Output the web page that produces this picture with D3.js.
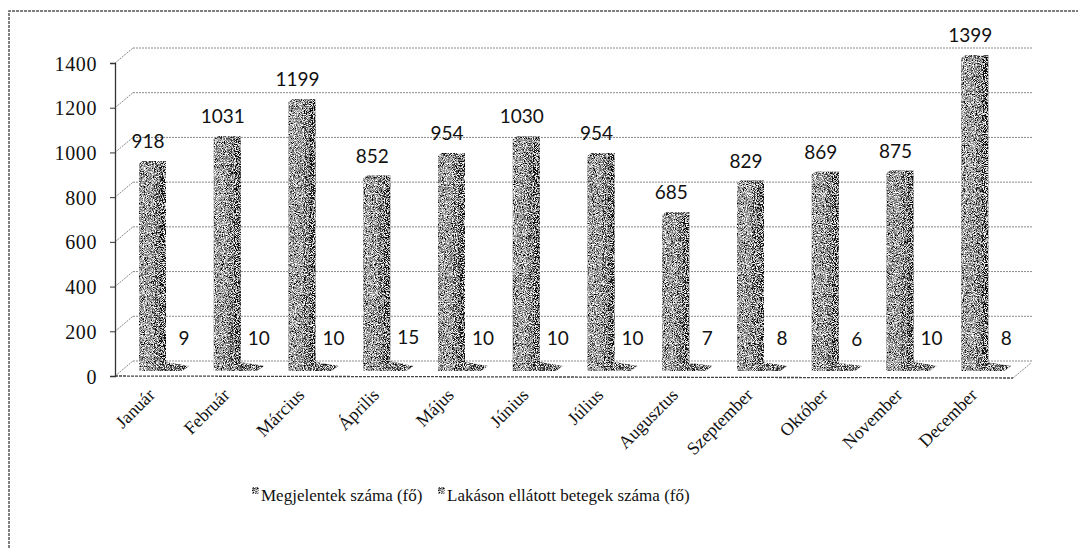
<!DOCTYPE html>
<html>
<head>
<meta charset="utf-8">
<title>Megjelentek / Lakáson ellátott betegek</title>
<style>
body { margin: 0; background: #fff; }
.grid { stroke: #8a8a8a; stroke-width: 1; stroke-dasharray: 2 1; fill: none; }
</style>
<script src="https://cdnjs.cloudflare.com/ajax/libs/d3/7.8.5/d3.min.js"></script>
</head>
<body>
<svg id="chart" width="1078" height="549"></svg>
<script>
var months = ['Január', 'Február', 'Március', 'Április', 'Május', 'Június',
    'Július', 'Augusztus', 'Szeptember', 'Október', 'November', 'December'];
var seriesNames = ['Megjelentek száma (fő)', 'Lakáson ellátott betegek száma (fő)'];
var megjelentek = [918, 1031, 1199, 852, 954, 1030, 954, 685, 829, 869, 875, 1399];
var lakason = [9, 10, 10, 15, 10, 10, 10, 7, 8, 6, 10, 8];
var yTicks = [0, 200, 400, 600, 800, 1000, 1200, 1400];

var SERIF = '"Liberation Serif", "DejaVu Serif", serif';
var SANS = 'Lato, "Open Sans", sans-serif';

var svg = d3.select('#chart');

// grainy "scanned" look for the bars
var defs = svg.append('defs');
var f = defs.append('filter').attr('id', 'grain')
    .attr('x', 0).attr('y', 0).attr('width', 1).attr('height', 1);
f.append('feTurbulence').attr('type', 'fractalNoise')
    .attr('baseFrequency', 1.1).attr('numOctaves', 1).attr('seed', 3).attr('result', 'noise');
f.append('feColorMatrix').attr('in', 'noise').attr('type', 'matrix')
    .attr('values', '0 0 0 0 0  0 0 0 0 0  0 0 0 0 0  5 0 0 0 -2.1').attr('result', 'dots');
f.append('feComposite').attr('in', 'dots').attr('in2', 'SourceGraphic')
    .attr('operator', 'in').attr('result', 'dots2');
f.append('feTurbulence').attr('type', 'fractalNoise')
    .attr('baseFrequency', 1.1).attr('numOctaves', 1).attr('seed', 11).attr('result', 'noise2');
f.append('feColorMatrix').attr('in', 'noise2').attr('type', 'matrix')
    .attr('values', '0 0 0 0 1  0 0 0 0 1  0 0 0 0 1  5 0 0 0 -2.3').attr('result', 'lights');
f.append('feComposite').attr('in', 'lights').attr('in2', 'SourceGraphic')
    .attr('operator', 'in').attr('result', 'lights2');
var fm = f.append('feMerge');
fm.append('feMergeNode').attr('in', 'SourceGraphic');
fm.append('feMergeNode').attr('in', 'dots2');
fm.append('feMergeNode').attr('in', 'lights2');

// frame (only top and left are inside the scan)
svg.append('path').attr('d', 'M9,560 L9,11 L1090,11')
    .attr('fill', 'none').attr('stroke', '#555').attr('stroke-width', 1.5)
    .attr('stroke-dasharray', '3 1');

// 3d box geometry
var depthX = 18, depthY = -15;
var left = 115, right = 1013;

var yFront = d3.scaleLinear().domain([0, 1400]).range([376, 63]);
var yBar = d3.scaleLinear().domain([0, 1400]).range([363, 55]);

var x0 = d3.scaleBand().domain(months).range([113, 1010]).paddingInner(0);
var x1 = d3.scaleBand().domain([0, 1]).range([26, 72]);

// back wall gridlines + diagonals from the axis
yTicks.forEach(function(t) {
    var yf = yFront(t);
    svg.append('line').attr('class', 'grid')
        .attr('x1', left + depthX).attr('x2', right + depthX + 1)
        .attr('y1', yf + depthY).attr('y2', yf + depthY);
    svg.append('line').attr('class', 'grid')
        .attr('x1', left).attr('y1', yf)
        .attr('x2', left + depthX).attr('y2', yf + depthY);
});

// floor front edge and right diagonal
svg.append('line').attr('stroke', '#444').attr('stroke-width', 1.3)
    .attr('stroke-dasharray', '3 1')
    .attr('x1', left).attr('y1', yFront(0)).attr('x2', right).attr('y2', yFront(0) + 2);
svg.append('line').attr('class', 'grid')
    .attr('x1', right).attr('y1', yFront(0) + 2)
    .attr('x2', right + depthX).attr('y2', yFront(0) + 2 + depthY);

// value axis
var axis = d3.axisLeft(yFront).tickValues(yTicks).tickFormat(d3.format('d'))
    .tickSize(5).tickPadding(13);
var ag = svg.append('g').attr('transform', 'translate(' + left + ',0)').call(axis);
ag.select('.domain').attr('stroke', '#333').attr('stroke-width', 1.3);
ag.selectAll('.tick line').attr('stroke', '#333');
ag.selectAll('.tick text').attr('fill', '#111').attr('dy', '0.35em')
    .style('font-family', SERIF).style('font-size', '20px')
    .style('letter-spacing', '0.6px');

// bars
var floorY = 371;
var barW = 20, sideW = 7;
var data = [];
months.forEach(function(m, i) {
    data.push({ m: m, s: 0, v: megjelentek[i] });
    data.push({ m: m, s: 1, v: lakason[i] });
});

var bars = svg.append('g').attr('filter', 'url(#grain)');
data.forEach(function(d) {
    var bx = x0(d.m) + x1(d.s) + (x1.bandwidth() - barW - sideW) / 2 + 2;
    var top = yBar(d.v);
    var g = bars.append('g');
    if (d.s === 1) {
        // tiny bars look like flat slabs on the floor
        g.append('path')
            .attr('d', 'M' + (bx - 6) + ',' + floorY + ' L' + (bx + barW) + ',' + floorY +
                ' L' + (bx + barW + sideW) + ',' + (floorY - 5) +
                ' L' + (bx + 2) + ',' + (top + 1) + ' Z')
            .attr('fill', '#444');
        return;
    }
    // front face
    g.append('rect').attr('x', bx).attr('y', top + 3)
        .attr('width', barW).attr('height', floorY - top - 3)
        .attr('fill', '#8c8c8c');
    // side face
    g.append('path')
        .attr('d', 'M' + (bx + barW) + ',' + (top + 3) + ' L' + (bx + barW + sideW) + ',' + (top) +
            ' L' + (bx + barW + sideW) + ',' + (floorY - 3) + ' L' + (bx + barW) + ',' + floorY + ' Z')
        .attr('fill', '#1e1e1e');
    // top face
    g.append('path')
        .attr('d', 'M' + bx + ',' + (top + 3) + ' L' + (bx + 4) + ',' + top +
            ' L' + (bx + barW + sideW) + ',' + top + ' L' + (bx + barW) + ',' + (top + 3) + ' Z')
        .attr('fill', '#4a4a4a');
    // darker strip on the right edge of the front face
    g.append('rect').attr('x', bx + barW - 5).attr('y', top + 3)
        .attr('width', 4).attr('height', floorY - top - 3)
        .attr('fill', '#4a4a4a');
});

// value labels
months.forEach(function(m, i) {
    var cx = x0(m) + 37;
    svg.append('text').style('font-family', SANS).style('font-size', '19px')
        .attr('fill', '#111')
        .attr('x', cx - 2).attr('y', yBar(megjelentek[i]) - 13)
        .attr('text-anchor', 'middle').text(megjelentek[i]);
    svg.append('text').style('font-family', SANS).style('font-size', '19px')
        .attr('fill', '#111')
        .attr('x', cx + 34).attr('y', yBar(lakason[i]) - 16)
        .attr('text-anchor', 'middle').text(lakason[i]);
});

// month labels
months.forEach(function(m) {
    var ax = x0(m) + 43, ay = 396;
    svg.append('text').style('font-family', SERIF).style('font-size', '18px')
        .attr('fill', '#111')
        .attr('transform', 'translate(' + ax + ',' + ay + ') rotate(-45)')
        .attr('text-anchor', 'end').text(m);
});

// legend
var legendX = [252, 438];
seriesNames.forEach(function(name, i) {
    var lg = svg.append('g').attr('transform', 'translate(' + legendX[i] + ',487)');
    lg.append('rect').attr('x', 0).attr('y', 0).attr('width', 7).attr('height', 7)
        .attr('fill', '#777').attr('filter', 'url(#grain)');
    lg.append('text').style('font-family', SERIF).style('font-size', '17px')
        .attr('fill', '#111').attr('x', 9).attr('y', 14).text(name);
});
</script>
</body>
</html>
